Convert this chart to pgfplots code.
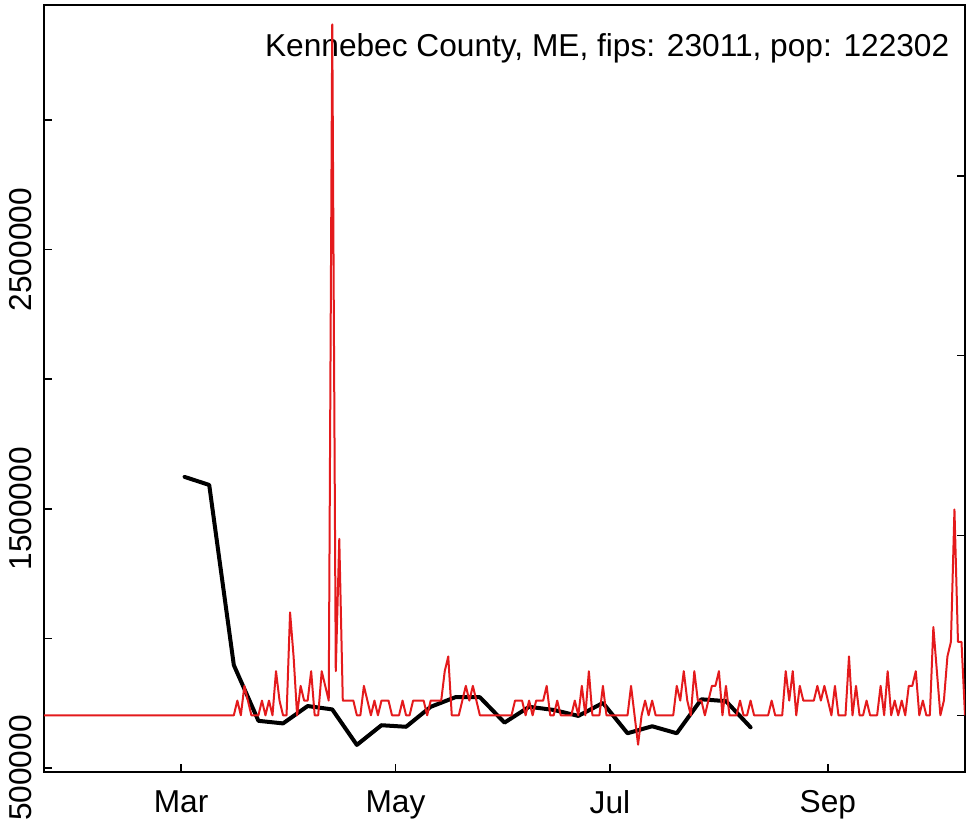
\documentclass[border=0pt]{standalone}
\usepackage{pgfplots}
\pgfplotsset{compat=1.18}
\usepackage{fontspec}
\setmainfont{Liberation Sans}
\definecolor{casered}{HTML}{E41A1C}

% x = days since 1 Mar 2020
\begin{document}
\begin{tikzpicture}[font=\fontsize{9.5}{11.4}\selectfont]
\pgfplotsset{
  panel/.style={
    scale only axis, width=276.3pt, height=230.1pt,
    xmin=-39, xmax=223,
    tick align=inside, major tick length=2.4pt,
    axis line style={line width=0.45pt},
    tick style={black, line width=0.45pt},
    tick label style={font=\fontsize{9.5}{11.4}\selectfont},
  }
}
\begin{axis}[
  panel,
  ymin=484568, ymax=3443673,
  xtick={0,61,122,184}, xticklabels={Mar,May,Jul,Sep},
  ytick={500000,1000000,1500000,2000000,2500000,3000000},
  yticklabels={500000,,1500000,,2500000,},
  scaled y ticks=false,
  xtick pos=bottom, ytick pos=left,
  yticklabel style={rotate=90, anchor=south},
  xticklabel style={yshift=-2.1pt},
]
\addplot[black, line width=1.2pt, line cap=round, line join=round] coordinates {
  (1,1623000)(8,1592000)(15,897000)(22,682000)(29,672000)(36,739000)
  (43,726000)(50,589000)(57,665000)(64,659000)(71,736000)(78,773000)
  (85,773000)(92,675000)(99,736000)(106,724000)(113,701000)(120,751000)
  (127,634000)(134,661000)(141,634000)(148,765000)(155,758000)(162,657000)
};
\coordinate (sw) at (rel axis cs:0,0);
\coordinate (ne) at (rel axis cs:1,1);
\node[anchor=base east, inner sep=0, xshift=-4.5pt, yshift=-15.6pt]
  at (rel axis cs:1,1) {Kennebec County, ME, fips: 23011, pop: 122302};
\end{axis}

\begin{axis}[
  panel,
  ymin=-3.857, ymax=48.32,
  axis x line=none, axis y line*=right,
  ytick={0,12.2302,24.4604,36.6906}, yticklabels={},
]
\addplot[casered, line width=0.6pt, line join=round] coordinates {
  (-39,0)(-38,0)(-37,0)(-36,0)(-35,0)(-34,0)(-33,0)(-32,0)(-31,0)(-30,0)
  (-29,0)(-28,0)(-27,0)(-26,0)(-25,0)(-24,0)(-23,0)(-22,0)(-21,0)(-20,0)
  (-19,0)(-18,0)(-17,0)(-16,0)(-15,0)(-14,0)(-13,0)(-12,0)(-11,0)(-10,0)
  (-9,0)(-8,0)(-7,0)(-6,0)(-5,0)(-4,0)(-3,0)(-2,0)(-1,0)(0,0)
  (1,0)(2,0)(3,0)(4,0)(5,0)(6,0)(7,0)(8,0)(9,0)(10,0)
  (11,0)(12,0)(13,0)(14,0)(15,0)(16,1)(17,0)(18,2)(19,1)(20,0)
  (21,0)(22,0)(23,1)(24,0)(25,1)(26,0)(27,3)(28,1)(29,0)(30,0)
  (31,7)(32,4)(33,0)(34,2)(35,1)(36,1)(37,3)(38,0)(39,0)(40,3)
  (41,2)(42,1)(43,47)(44,3)(45,12)(46,1)(47,1)(48,1)(49,1)(50,0)
  (51,0)(52,2)(53,1)(54,0)(55,1)(56,0)(57,1)(58,1)(59,1)(60,0)
  (61,0)(62,0)(63,1)(64,0)(65,0)(66,1)(67,1)(68,1)(69,1)(70,0)
  (71,1)(72,1)(73,1)(74,1)(75,3)(76,4)(77,0)(78,0)(79,0)(80,1)
  (81,2)(82,1)(83,2)(84,1)(85,0)(86,0)(87,0)(88,0)(89,0)(90,0)
  (91,0)(92,0)(93,0)(94,0)(95,1)(96,1)(97,1)(98,0)(99,1)(100,0)
  (101,1)(102,1)(103,1)(104,2)(105,0)(106,0)(107,1)(108,0)(109,0)(110,0)
  (111,0)(112,1)(113,0)(114,2)(115,0)(116,3)(117,0)(118,0)(119,0)(120,2)
  (121,0)(122,0)(123,0)(124,0)(125,0)(126,0)(127,0)(128,2)(129,0)(130,-2)
  (131,0)(132,1)(133,0)(134,1)(135,0)(136,0)(137,0)(138,0)(139,0)(140,0)
  (141,2)(142,1)(143,3)(144,1)(145,0)(146,3)(147,1)(148,1)(149,0)(150,1)
  (151,2)(152,2)(153,3)(154,0)(155,2)(156,0)(157,0)(158,0)(159,1)(160,0)
  (161,0)(162,1)(163,0)(164,0)(165,0)(166,0)(167,0)(168,1)(169,0)(170,0)
  (171,0)(172,3)(173,1)(174,3)(175,0)(176,2)(177,1)(178,1)(179,1)(180,1)
  (181,2)(182,1)(183,2)(184,1)(185,0)(186,2)(187,0)(188,0)(189,0)(190,4)
  (191,0)(192,2)(193,0)(194,0)(195,1)(196,0)(197,0)(198,0)(199,2)(200,0)
  (201,3)(202,0)(203,1)(204,0)(205,1)(206,0)(207,2)(208,2)(209,3)(210,0)
  (211,1)(212,0)(213,0)(214,6)(215,3)(216,0)(217,1)(218,4)(219,5)(220,14)
  (221,5)(222,5)(223,0)
};
\end{axis}
\pgfresetboundingbox
\path ([shift={(-13.2pt,-15pt)}]sw) rectangle ([shift={(0.6pt,1.5pt)}]ne);
\end{tikzpicture}
\end{document}
